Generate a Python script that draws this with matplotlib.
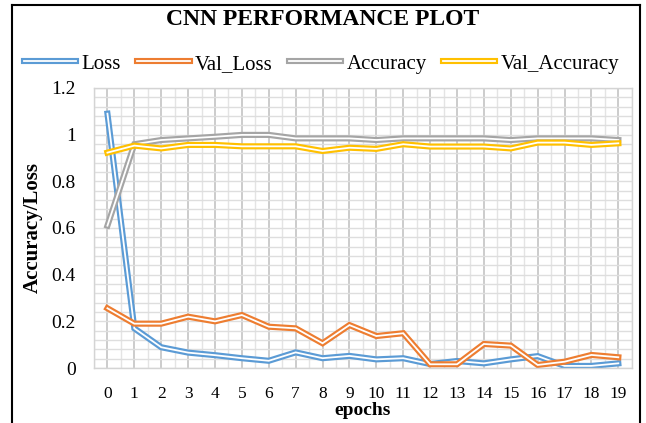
import numpy as np
import matplotlib.pyplot as plt
import matplotlib.patheffects as pe
from matplotlib.lines import Line2D

plt.rcParams['font.family'] = ['Liberation Serif', 'DejaVu Serif']

# data
epochs = list(range(20))
loss = [1.09, 0.17, 0.089, 0.066, 0.055, 0.042, 0.031, 0.067, 0.042, 0.052,
        0.037, 0.042, 0.017, 0.030, 0.020, 0.037, 0.051, 0.009, 0.009, 0.020]
val_loss = [0.256, 0.19, 0.19, 0.22, 0.20, 0.227, 0.177, 0.17, 0.106, 0.184,
            0.137, 0.149, 0.016, 0.016, 0.103, 0.096, 0.013, 0.027, 0.056, 0.046]
accuracy = [0.61, 0.959, 0.977, 0.984, 0.991, 0.999, 0.999, 0.984, 0.984, 0.984,
            0.977, 0.984, 0.984, 0.984, 0.984, 0.977, 0.984, 0.984, 0.984, 0.977]
val_accuracy = [0.923, 0.953, 0.941, 0.956, 0.956, 0.95, 0.95, 0.95, 0.93, 0.944,
                0.939, 0.959, 0.949, 0.949, 0.949, 0.941, 0.966, 0.966, 0.956, 0.963]

series = [("Loss", loss, "#5B9BD5"),
          ("Val_Loss", val_loss, "#ED7D31"),
          ("Accuracy", accuracy, "#A5A5A5"),
          ("Val_Accuracy", val_accuracy, "#FFC000")]

fig = plt.figure(figsize=(6.46, 4.23), dpi=100)
ax = fig.add_axes([0.1455, 0.130, 0.8325, 0.662])

# "double" line look: thick coloured stroke with a thin white core
for name, vals, col in series:
    ax.plot(epochs, vals, color=col, lw=4.4, label=name, solid_joinstyle='miter',
            path_effects=[pe.Stroke(linewidth=4.4, foreground=col),
                          pe.Stroke(linewidth=1.3, foreground='white')])

ax.set_xlim(-0.5, 19.5)
ax.set_ylim(0, 1.2)
ax.set_xticks(epochs)
ax.set_xticks(np.arange(-0.5, 20, 1), minor=True)
ax.set_yticks([0, 0.2, 0.4, 0.6, 0.8, 1.0, 1.2])
ax.set_yticklabels(["0", "0.2", "0.4", "0.6", "0.8", "1", "1.2"])
ax.set_yticks(np.arange(0, 1.201, 0.04), minor=True)
ax.tick_params(which='both', length=0)
ax.tick_params(axis='x', labelsize=12.5, pad=13)
ax.tick_params(axis='y', labelsize=14, pad=13)

ax.grid(True, axis='x', which='major', color='#c4c4c4', lw=1.2, zorder=0)
ax.grid(True, axis='x', which='minor', color='#e4e4e4', lw=1.0, zorder=0)
ax.grid(True, axis='y', which='both', color='#dedede', lw=1.0, zorder=0)
ax.set_axisbelow(True)
for s in ax.spines.values():
    s.set_color('#d4d4d4')
    s.set_linewidth(1.0)

ax.set_xlabel('epochs', fontsize=14, fontweight='bold', labelpad=0)
ax.set_ylabel('Accuracy/Loss', fontsize=15, fontweight='bold', labelpad=6)

fig.suptitle('CNN PERFORMANCE PLOT', fontsize=17, fontweight='bold', y=0.953, va='center')
fig.legend(loc='center', bbox_to_anchor=(0.498, 0.849), ncol=4, frameon=False,
           fontsize=15, handlelength=2.5, handletextpad=0.25, columnspacing=0.8,
           borderpad=0.0)

# outer chart frame
for xs, ys in [([0.019, 0.019], [-0.1, 0.988]), ([0.019, 0.991], [0.988, 0.988]),
               ([0.991, 0.991], [0.988, -0.1])]:
    fig.add_artist(Line2D(xs, ys, color='black', lw=1.5, transform=fig.transFigure))

fig.savefig('out.png', dpi=100)
